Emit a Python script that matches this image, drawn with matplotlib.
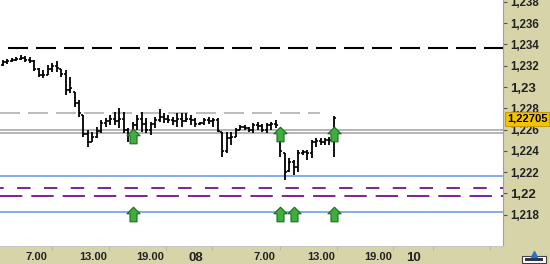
import matplotlib
matplotlib.use("Agg")
import matplotlib.pyplot as plt
import numpy as np
from matplotlib.path import Path
from matplotlib.patches import Rectangle

plt.rcParams['font.family'] = ['Liberation Sans', 'DejaVu Sans']

# half hour bars (open / high / low / close)
high = [1.23254, 1.23263, 1.23272, 1.23282, 1.23300, 1.23291, 1.23282, 1.23254, 1.23178, 1.23160,
        1.23207, 1.23225, 1.23244, 1.23169, 1.23160, 1.23094, 1.22953, 1.22878, 1.22737, 1.22596,
        1.22577, 1.22624, 1.22690, 1.22709, 1.22737, 1.22765, 1.22803, 1.22765, 1.22615, 1.22671,
        1.22737, 1.22765, 1.22709, 1.22671, 1.22718, 1.22793, 1.22756, 1.22737, 1.22718, 1.22756,
        1.22756, 1.22756, 1.22737, 1.22709, 1.22671, 1.22709, 1.22718, 1.22709, 1.22709, 1.22577,
        1.22577, 1.22577, 1.22615, 1.22643, 1.22643, 1.22624, 1.22662, 1.22671, 1.22653, 1.22662,
        1.22671, 1.22690, 1.22577, 1.22380, 1.22333, 1.22315, 1.22408, 1.22408, 1.22408, 1.22502,
        1.22521, 1.22521, 1.22521, 1.22531, 1.22728]
low = [1.23197, 1.23216, 1.23235, 1.23244, 1.23254, 1.23235, 1.23225, 1.23150, 1.23094, 1.23085,
       1.23113, 1.23141, 1.23141, 1.23094, 1.22925, 1.22944, 1.22812, 1.22718, 1.22531, 1.22437,
       1.22484, 1.22521, 1.22568, 1.22624, 1.22643, 1.22643, 1.22615, 1.22568, 1.22484, 1.22521,
       1.22596, 1.22577, 1.22568, 1.22549, 1.22615, 1.22671, 1.22662, 1.22662, 1.22643, 1.22624,
       1.22624, 1.22671, 1.22643, 1.22624, 1.22643, 1.22643, 1.22653, 1.22624, 1.22577, 1.22343,
       1.22380, 1.22455, 1.22531, 1.22596, 1.22596, 1.22577, 1.22568, 1.22596, 1.22577, 1.22568,
       1.22596, 1.22615, 1.22343, 1.22127, 1.22202, 1.22174, 1.22202, 1.22362, 1.22315, 1.22333,
       1.22437, 1.22455, 1.22455, 1.22455, 1.22343]
opens = [1.23210, 1.23235, 1.23244, 1.23254, 1.23263, 1.23272, 1.23254, 1.23244, 1.23169, 1.23113,
         1.23113, 1.23169, 1.23197, 1.23169, 1.23122, 1.22972, 1.22953, 1.22850, 1.22737, 1.22560,
         1.22484, 1.22530, 1.22590, 1.22660, 1.22680, 1.22700, 1.22680, 1.22700, 1.22600, 1.22560,
         1.22640, 1.22700, 1.22650, 1.22600, 1.22650, 1.22690, 1.22720, 1.22700, 1.22690, 1.22680,
         1.22700, 1.22680, 1.22700, 1.22690, 1.22650, 1.22660, 1.22690, 1.22680, 1.22690, 1.22577,
         1.22400, 1.22520, 1.22531, 1.22600, 1.22620, 1.22615, 1.22600, 1.22640, 1.22630, 1.22600,
         1.22640, 1.22650, 1.22577, 1.22380, 1.22210, 1.22300, 1.22250, 1.22380, 1.22390, 1.22380,
         1.22480, 1.22490, 1.22480, 1.22500, 1.22500]
close = [1.23235, 1.23244, 1.23254, 1.23263, 1.23272, 1.23254, 1.23244, 1.23169, 1.23113, 1.23113,
         1.23169, 1.23197, 1.23178, 1.23122, 1.22972, 1.22990, 1.22850, 1.22756, 1.22560, 1.22480,
         1.22530, 1.22590, 1.22660, 1.22680, 1.22700, 1.22680, 1.22700, 1.22600, 1.22560, 1.22640,
         1.22700, 1.22650, 1.22600, 1.22650, 1.22690, 1.22720, 1.22700, 1.22690, 1.22680, 1.22700,
         1.22680, 1.22700, 1.22690, 1.22650, 1.22660, 1.22690, 1.22680, 1.22690, 1.22590, 1.22400,
         1.22520, 1.22530, 1.22600, 1.22620, 1.22615, 1.22600, 1.22640, 1.22630, 1.22600, 1.22640,
         1.22650, 1.22640, 1.22400, 1.22200, 1.22300, 1.22250, 1.22380, 1.22390, 1.22380, 1.22480,
         1.22490, 1.22480, 1.22500, 1.22500, 1.22705]

# levels
resistance = 1.2337
prev_high = 1.22753
pivots = [1.22596, 1.22565]
supports = [1.22164, 1.21823]
purple_hi = 1.22052
purple_lo = 1.21981
last_price = 1.22705

# buy signals
signal_bar = [29, 62, 74, 29, 62, 65, 74]
signal_val = [1.22540, 1.22559, 1.22559, 1.21803, 1.21803, 1.21803, 1.21803]

xtick_pos = [7.38, 20.12, 32.86, 43.15, 58.35, 71.09, 83.84, 91.89]
xtick_lab = ['7.00', '13.00', '19.00', '08', '7.00', '13.00', '19.00', '10']
xminor_pos = [10.95, 23.70, 36.44, 46.72, 61.93, 74.67, 87.19, 96.13, 108.88]
ytick_val = [1.218, 1.220, 1.222, 1.224, 1.226, 1.228, 1.230, 1.232, 1.234, 1.236, 1.238]
ytick_lab = ['1,218', '1,22', '1,222', '1,224', '1,226', '1,228', '1,23', '1,232', '1,234', '1,236', '1,238']

tan = '#d6d4a8'
fig = plt.figure(figsize=(5.5, 2.64), dpi=100, facecolor=tan)
ax = fig.add_axes([0, 18/264, 503/550, 246/264])
ax.set_facecolor('white')
ax.set_xlim(-0.67, 111.8)
ax.set_ylim(1.21507, 1.23817)

x = np.arange(len(high))
ax.vlines(x, low, high, color='black', lw=1.3, zorder=3)
ax.hlines(opens, x - 0.45, x, color='black', lw=1.2, zorder=3)
ax.hlines(close, x, x + 0.45, color='black', lw=1.2, zorder=3)

# levels
ax.axhline(resistance, color='black', lw=1.5, ls=(9.6, (9.6, 3.84)), zorder=2)
ax.axhline(prev_high, xmax=320/503, color='#b0b0b0', lw=1.2, ls=(0, (12, 4.8)), zorder=1)
for v in pivots:
    ax.axhline(v, color='#a8a8a8', lw=1.2, zorder=1)
for v in supports:
    ax.axhline(v, color='#6f9ee0', lw=1.2, zorder=1)
ax.axhline(purple_hi, color='#7b2496', lw=1.4, ls=(5, (6.9, 6.9)), zorder=1)
ax.axhline(purple_lo, color='#7b2496', lw=1.4, ls=(0, (11.5, 4.6)), zorder=1)

# arrow marker
arrow = Path([(0, 0.5), (0.45, 0.05), (0.24, 0.05), (0.24, -0.5), (-0.24, -0.5),
              (-0.24, 0.05), (-0.45, 0.05), (0, 0.5)],
             [Path.MOVETO] + [Path.LINETO] * 6 + [Path.CLOSEPOLY])
ax.plot(signal_bar, signal_val, ls='none', marker=arrow, ms=10.5,
        mfc='#3fae3f', mec='#1d6b1d', mew=0.8, zorder=5)

# axes styling
for s in ['top', 'left']:
    ax.spines[s].set_visible(False)
ax.spines['right'].set_color('#a0a0a0')
ax.spines['bottom'].set_color('#c8c8c8')

ax.yaxis.tick_right()
ax.set_yticks(ytick_val)
ax.set_yticklabels(ytick_lab, fontweight='bold', fontsize=8.3, color='#222222')
for t in ax.get_yticklabels():
    if t.get_text() in ('1,23', '1,22'):
        t.set_fontsize(9.5)
ax.tick_params(axis='y', length=3, width=0.8, color='#555555', pad=2)

ax.set_xticks(xtick_pos)
ax.set_xticklabels(xtick_lab, fontweight='bold', fontsize=8, color='#222222')
for t in ax.get_xticklabels():
    if t.get_text() in ('08', '10'):
        t.set_fontsize(9.5)
ax.set_xticks(xminor_pos, minor=True)
ax.tick_params(axis='x', which='major', length=0, pad=4)
ax.tick_params(axis='x', which='minor', length=3, color='#b8b8a0', width=0.8)

# last price tag
fig.text(527/550, 1 - 119/264, '1,22705', ha='center', va='center', fontsize=8,
         fontweight='bold', color='black',
         bbox=dict(boxstyle='square,pad=0.15', fc='#f5c400', ec='#c89b00', lw=0.8))

# small scroll icon in the corner
fig.add_artist(Rectangle((522/550, 1/264), 24/550, 7/264, transform=fig.transFigure,
                         fc='white', ec='#404040', lw=0.8))
fig.add_artist(Rectangle((525/550, 3/264), 18/550, 3/264, transform=fig.transFigure,
                         fc='#303050', ec='none'))
fig.lines.append(plt.Line2D([534/550], [1 - 254/264], transform=fig.transFigure,
                            marker='^', ms=5, color='#2a6fd0', ls='none'))

fig.savefig('out.png', dpi=100, facecolor=tan)
